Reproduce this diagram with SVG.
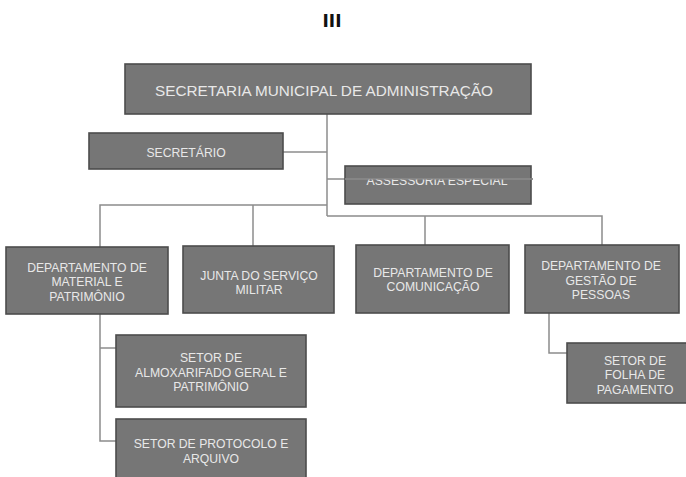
<svg xmlns="http://www.w3.org/2000/svg" width="686" height="477" viewBox="0 0 686 477">
<style>
.bx{fill:#767676;stroke:#4d4d4d;stroke-width:1.6}
.t{font-family:"Liberation Sans",Arial,sans-serif;font-size:12.2px;fill:#e8e8e8;text-anchor:middle}
.tt{font-family:"Liberation Sans",Arial,sans-serif;font-size:15.3px;fill:#e8e8e8;text-anchor:middle}
.ln{fill:none;stroke:#8c8c8c;stroke-width:1.5}
</style>
<defs>
<clipPath id="clipA"><rect x="345" y="179.5" width="186" height="26"/></clipPath>
</defs>
<rect width="686" height="477" fill="#ffffff"/>
<text x="332" y="27" font-family="DejaVu Sans,sans-serif" font-weight="bold" font-size="17" text-anchor="middle" fill="#111">III</text>
<g id="connectors">
<path class="ln" d="M327,114 V216"/>
<path class="ln" d="M283,152 H327"/>
<path class="ln" d="M327,179 H533"/>
<path class="ln" d="M100,247 V205 H327"/>
<path class="ln" d="M253,205 V246"/>
<path class="ln" d="M327,216 H602 V245"/>
<path class="ln" d="M425,216 V245"/>
<path class="ln" d="M100,314 V441 H116"/>
<path class="ln" d="M100,348 H116"/>
<path class="ln" d="M549,313 V353 H567"/>
</g>
<g id="n0"><rect class="bx" x="125" y="64" width="406" height="50"/><text class="tt" x="324" y="95.5">SECRETARIA MUNICIPAL DE ADMINISTRAÇÃO</text></g>
<g id="n1"><rect class="bx" x="89" y="133" width="194" height="36"/><text class="t" x="186" y="156.5">SECRETÁRIO</text></g>
<g id="n2"><rect class="bx" x="345" y="166" width="186" height="38"/><path class="ln" d="M345,179 H533"/><text class="t" x="437" y="185" clip-path="url(#clipA)">ASSESSORIA ESPECIAL</text></g>
<g id="n3"><rect class="bx" x="6" y="247" width="162" height="67"/><text class="t" x="87" y="271.5">DEPARTAMENTO DE</text><text class="t" x="87" y="286">MATERIAL E</text><text class="t" x="87" y="300.5">PATRIMÔNIO</text></g>
<g id="n4"><rect class="bx" x="183" y="246" width="151" height="67"/><text class="t" x="259" y="279.5">JUNTA DO SERVIÇO</text><text class="t" x="259" y="294">MILITAR</text></g>
<g id="n5"><rect class="bx" x="356" y="245" width="153" height="68"/><text class="t" x="433" y="276.5">DEPARTAMENTO DE</text><text class="t" x="433" y="291">COMUNICAÇÃO</text></g>
<g id="n6"><rect class="bx" x="525" y="245" width="154" height="68"/><text class="t" x="601" y="269.5">DEPARTAMENTO DE</text><text class="t" x="601" y="284.5">GESTÃO DE</text><text class="t" x="601" y="299">PESSOAS</text></g>
<g id="n7"><rect class="bx" x="116" y="335" width="190" height="72"/><text class="t" x="211" y="361.5">SETOR DE</text><text class="t" x="211" y="376.5">ALMOXARIFADO GERAL E</text><text class="t" x="211" y="391">PATRIMÔNIO</text></g>
<g id="n8"><rect class="bx" x="116" y="419" width="190" height="70"/><text class="t" x="211" y="447.5">SETOR DE PROTOCOLO E</text><text class="t" x="211" y="462.5">ARQUIVO</text></g>
<g id="n9"><rect class="bx" x="567" y="343" width="140" height="60"/><text class="t" x="635" y="364.5">SETOR DE</text><text class="t" x="635" y="379">FOLHA DE</text><text class="t" x="635" y="393.5">PAGAMENTO</text></g>
</svg>
